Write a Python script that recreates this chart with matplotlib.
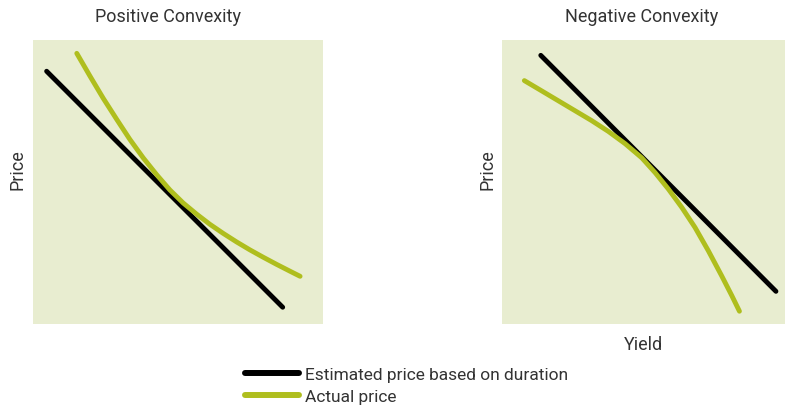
import matplotlib.pyplot as plt

plt.rcParams['font.family'] = ['Roboto', 'DejaVu Sans']

# Positive convexity: duration estimate vs. actual price (yield, price in arbitrary units)
pos_est_yield = [0.47, 8.61]
pos_est_price = [8.90, 0.59]
pos_act_yield = [1.51, 1.97, 2.42, 2.89, 3.34, 3.80, 4.27, 4.72, 5.18, 5.64, 6.10,
                 6.56, 7.02, 7.48, 7.94, 8.40, 8.86, 9.21]
pos_act_price = [9.53, 8.72, 7.95, 7.20, 6.50, 5.85, 5.25, 4.72, 4.26, 3.87, 3.51,
                 3.19, 2.89, 2.61, 2.35, 2.10, 1.86, 1.68]

# Negative convexity
neg_est_yield = [1.37, 9.68]
neg_est_price = [9.46, 1.15]
neg_act_yield = [0.79, 1.40, 1.99, 2.58, 3.17, 3.76, 4.35, 4.94, 5.41, 5.88, 6.35,
                 6.82, 7.29, 7.76, 8.12, 8.39]
neg_act_price = [8.57, 8.21, 7.86, 7.51, 7.16, 6.78, 6.35, 5.85, 5.33, 4.75, 4.11,
                 3.40, 2.58, 1.70, 1.00, 0.45]

labels = ['Estimated price based on duration', 'Actual price']

bg = '#E8EDD0'
green = '#AFBE1E'
txt = '#333333'

fig = plt.figure(figsize=(7.85, 4.14), dpi=100)
ax1 = fig.add_axes([33/785, 89/414, 290/785, 284/414])
ax2 = fig.add_axes([502/785, 89/414, 283/785, 284/414])

for ax, ey, ep, ay, ap in [(ax1, pos_est_yield, pos_est_price, pos_act_yield, pos_act_price),
                           (ax2, neg_est_yield, neg_est_price, neg_act_yield, neg_act_price)]:
    ax.set_facecolor(bg)
    ax.plot(ey, ep, color='black', lw=3.5, solid_capstyle='round')
    ax.plot(ay, ap, color=green, lw=3.5, solid_capstyle='round', solid_joinstyle='round')
    ax.set_xlim(0, 10)
    ax.set_ylim(0, 10)
    ax.set_xticks([])
    ax.set_yticks([])
    for s in ax.spines.values():
        s.set_visible(False)

fs = 13
fig.text(168/785, 1 - 17/414, 'Positive Convexity', ha='center', va='center', fontsize=fs, color=txt)
fig.text(642/785, 1 - 17/414, 'Negative Convexity', ha='center', va='center', fontsize=fs, color=txt)
fig.text(17/785, 1 - 170/414, 'Price', ha='center', va='center', rotation=90, fontsize=fs, color=txt)
fig.text(487/785, 1 - 170/414, 'Price', ha='center', va='center', rotation=90, fontsize=fs, color=txt)
fig.text(643/785, 1 - 345/414, 'Yield', ha='center', va='center', fontsize=fs, color=txt)

handles = [plt.Line2D([], [], color='black', lw=4.3, solid_capstyle='round'),
           plt.Line2D([], [], color=green, lw=4.3, solid_capstyle='round')]
leg = fig.legend(handles, labels, loc='upper left', bbox_to_anchor=(245/785, 1 - 368/414),
                 frameon=False, fontsize=12.5, handlelength=3.1, handletextpad=0.38,
                 labelspacing=0.37, borderpad=0, borderaxespad=0)
for t in leg.get_texts():
    t.set_color(txt)

fig.savefig('out.png', dpi=100)
